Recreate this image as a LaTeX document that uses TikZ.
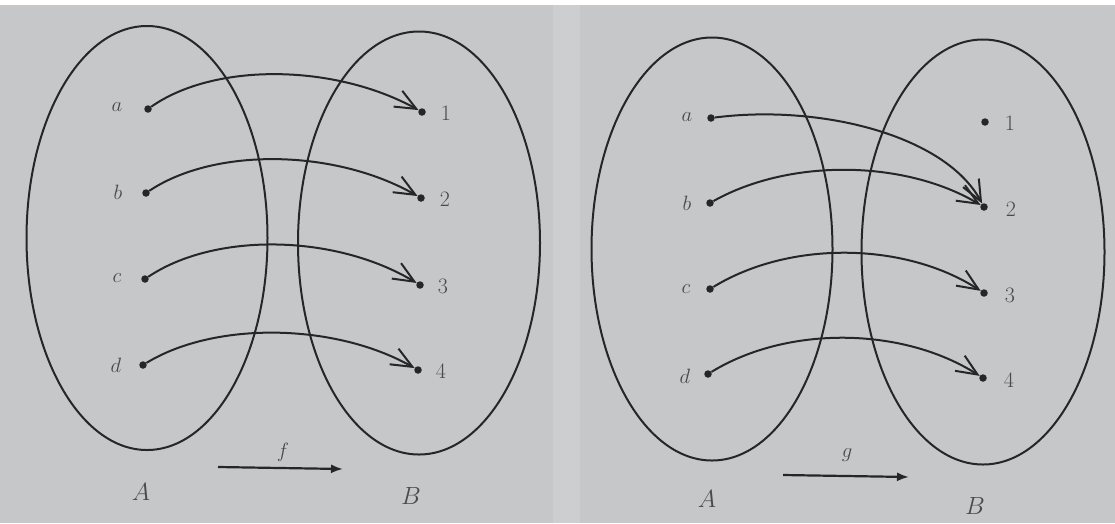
\documentclass[tikz,border=0pt]{standalone}
\usetikzlibrary{arrows.meta,shapes.geometric}
\definecolor{paper}{HTML}{C6C7C9}
\definecolor{seam}{HTML}{CDCECF}
\definecolor{ink}{HTML}{262626}
\definecolor{lbl}{HTML}{4A4A4A}
\tikzset{
  setell/.style={draw=ink,line width=2pt,ellipse,inner sep=0pt},
  pt/.style={circle,fill=ink,inner sep=0pt,minimum size=7.5pt},
  lab/.style={text=lbl,font=\fontsize{22}{26}\selectfont,inner sep=0pt},
  biglab/.style={text=lbl,font=\fontsize{24}{28}\selectfont,inner sep=0pt},
  maparc/.style={draw=ink,line width=2pt,-{Straight Barb[length=21pt,width=18pt,line width=2pt]}},
  fnarrow/.style={draw=ink,line width=2.2pt,-{Latex[length=12pt,width=9pt]}}
}
\begin{document}
\begin{tikzpicture}[x=1pt,y=-1pt]
\useasboundingbox (0,0) rectangle (1115,523);
\fill[paper] (0,0) rectangle (1115,523);
\fill[seam] (553,0) rectangle (580,523);
\fill[white] (0,0) rectangle (1115,5);

% ---------- left diagram ----------
\node[setell,minimum width=241pt,minimum height=424pt] (A1) at (147,238) {};
\node[setell,minimum width=242pt,minimum height=423pt] (B1) at (419,243) {};

\node[pt] (la) at (148,109) {};
\node[pt] (lb) at (146,193) {};
\node[pt] (lc) at (145,279) {};
\node[pt] (ld) at (143,365) {};
\node[lab] (lta) at (117,107) {$a$};
\node[lab] (ltb) at (118,192) {$b$};
\node[lab] (ltc) at (117,278) {$c$};
\node[lab] (ltd) at (116,365) {$d$};

\node[pt] (l1) at (422,112) {};
\node[pt] (l2) at (421,198) {};
\node[pt] (l3) at (420,285) {};
\node[pt] (l4) at (418,370) {};
\node[lab] (lt1) at (446,113) {1};
\node[lab] (lt2) at (445,199) {2};
\node[lab] (lt3) at (443,286) {3};
\node[lab] (lt4) at (441,371) {4};

\draw[maparc] (la) .. controls (215,62) and (335,64) .. (l1);
\draw[maparc] (lb) .. controls (215,147) and (335,149) .. (l2);
\draw[maparc] (lc) .. controls (215,232) and (335,234) .. (l3);
\draw[maparc] (ld) .. controls (215,321) and (335,323) .. (l4);

\coordinate (fs) at (218,467);
\coordinate (fe) at (343,469);
\draw[fnarrow] (fs) -- (fe);
\node[lab] (lf) at (283,452) {$f$};
\node[biglab] (lA) at (141,492) {$A$};
\node[biglab] (lB) at (411,496) {$B$};

% ---------- right diagram ----------
\node[setell,minimum width=241pt,minimum height=423pt] (A2) at (712,249) {};
\node[setell,minimum width=243pt,minimum height=425pt] (B2) at (983,252) {};

\node[pt] (ra) at (711,118) {};
\node[pt] (rb) at (710,203) {};
\node[pt] (rc) at (710,289) {};
\node[pt] (rd) at (708,374) {};
\node[lab] (rta) at (687,117) {$a$};
\node[lab] (rtb) at (687,203) {$b$};
\node[lab] (rtc) at (686,289) {$c$};
\node[lab] (rtd) at (685,376) {$d$};

\node[pt] (r1) at (985,122) {};
\node[pt] (r2) at (984,207) {};
\node[pt] (r3) at (984,293) {};
\node[pt] (r4) at (983,378) {};
\node[lab] (rt1) at (1010,123) {1};
\node[lab] (rt2) at (1011,209) {2};
\node[lab] (rt3) at (1010,295) {3};
\node[lab] (rt4) at (1009,380) {4};

\draw[maparc] (ra) .. controls (820,104) and (945,135) .. (r2);
\draw[maparc] (rb) .. controls (790,158) and (905,160) .. (r2);
\draw[maparc] (rc) .. controls (790,240) and (905,242) .. (r3);
\draw[maparc] (rd) .. controls (788,325) and (903,327) .. (r4);

\coordinate (gs) at (783,475);
\coordinate (ge) at (909,477);
\draw[fnarrow] (gs) -- (ge);
\node[lab] (lg) at (847,455) {$g$};
\node[biglab] (rA) at (707,499) {$A$};
\node[biglab] (rB) at (975,506) {$B$};
\end{tikzpicture}
\end{document}
